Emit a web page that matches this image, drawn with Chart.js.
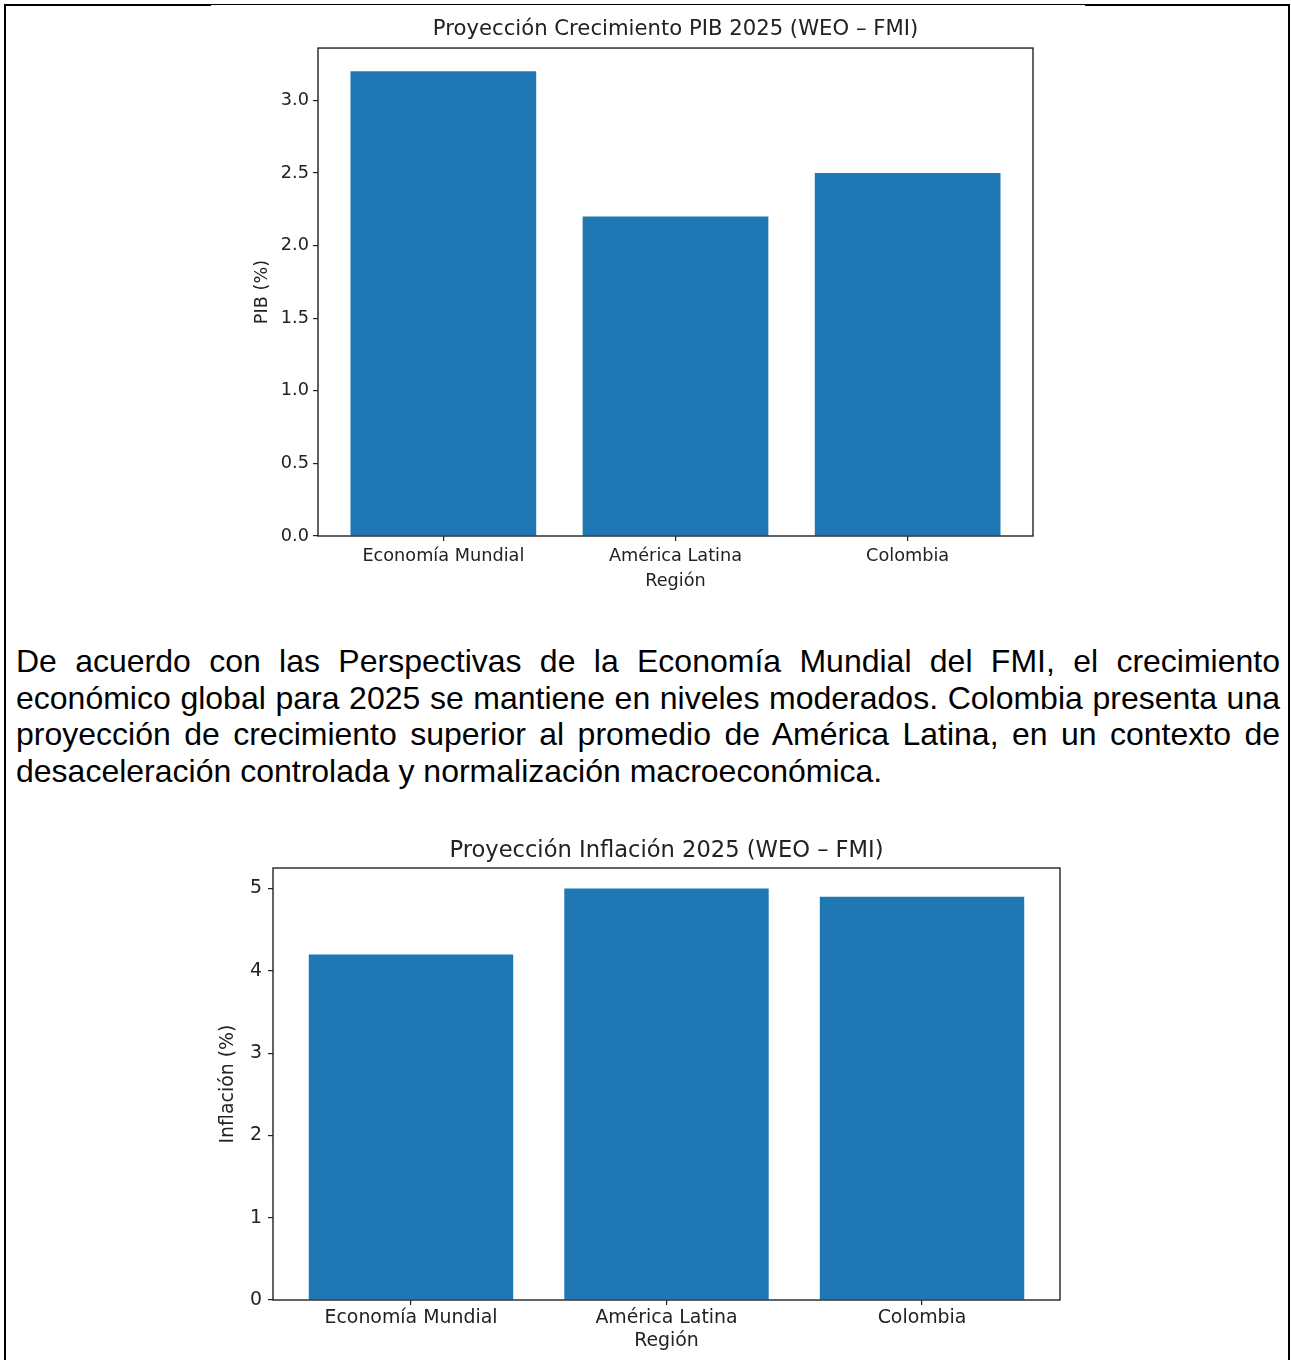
<!DOCTYPE html>
<html>
<head>
<meta charset="utf-8">
<script src="https://cdn.jsdelivr.net/npm/chart.js@4.4.1/dist/chart.umd.min.js"></script>
<style>
  body { margin: 0; background: #fff; width: 1291px; height: 1360px; position: relative; overflow: hidden; }
  .line { position: absolute; background: #000; }
  .box { position: absolute; }
  #texto {
    position: absolute; left: 16px; top: 643px; width: 1264px;
    font-family: "Liberation Sans", Arial, sans-serif; font-size: 32px; line-height: 36.7px;
    text-align: justify; color: #000;
  }
</style>
</head>
<body>
<div class="line" style="left:4px;top:4px;width:207px;height:2px"></div>
<div class="line" style="left:211px;top:4px;width:874px;height:1px"></div>
<div class="line" style="left:1085px;top:4px;width:205px;height:2px"></div>
<div class="line" style="left:4px;top:4px;width:2px;height:1356px"></div>
<div class="line" style="left:1288px;top:4px;width:2px;height:1356px"></div>

<div class="box" style="left:230px;top:0px;width:891px;height:600px"><canvas id="pib"></canvas></div>
<div id="texto">De acuerdo con las Perspectivas de la Economía Mundial del FMI, el crecimiento económico global para 2025 se mantiene en niveles moderados. Colombia presenta una proyección de crecimiento superior al promedio de América Latina, en un contexto de desaceleración controlada y normalización macroeconómica.</div>
<div class="box" style="left:188px;top:820px;width:957px;height:540px"><canvas id="inflacion"></canvas></div>

<script>
const regions = ['Economía Mundial', 'América Latina', 'Colombia']
const pib = [3.2, 2.2, 2.5]
const inflacion = [4.2, 5.0, 4.9]
const pibTicks = [0, 0.5, 1.0, 1.5, 2.0, 2.5, 3.0]
const inflacionTicks = [0, 1, 2, 3, 4, 5]

const FONT = '"DejaVu Sans", sans-serif'
const INK = '#222'

// marco completo alrededor del area de datos (estilo matplotlib)
const frame = {
  id: 'frame',
  afterDatasetsDraw (chart) {
    const { ctx, chartArea: a } = chart
    ctx.save()
    ctx.strokeStyle = INK
    ctx.lineWidth = 1.4
    ctx.strokeRect(a.left, a.top, a.right - a.left, a.bottom - a.top)
    ctx.restore()
  }
}

function barChart (id, cfg) {
  return new Chart(document.getElementById(id), {
    type: 'bar',
    data: {
      datasets: [{
        data: cfg.values.map((v, i) => ({ x: i, y: v })),
        backgroundColor: '#1f77b4',
        borderWidth: 0,
        categoryPercentage: 1,
        barPercentage: 0.8
      }]
    },
    options: {
      responsive: true,
      maintainAspectRatio: false,
      animation: false,
      layout: { padding: 0 },
      plugins: {
        legend: { display: false },
        tooltip: { enabled: false },
        title: {
          display: true,
          text: cfg.title,
          color: INK,
          font: { family: FONT, size: cfg.titleSize, weight: 'normal' },
          padding: cfg.titlePad
        }
      },
      scales: {
        x: {
          type: 'linear',
          min: -0.54,
          max: 2.54,
          offset: false,
          afterBuildTicks: s => { s.ticks = regions.map((r, i) => ({ value: i })) },
          afterFit: s => { s.height = cfg.xHeight },
          ticks: {
            callback: v => regions[v],
            color: INK,
            padding: cfg.xTickPad,
            maxRotation: 0,
            autoSkip: false,
            font: { family: FONT, size: cfg.fontSize }
          },
          grid: { display: true, offset: false, drawOnChartArea: false, drawTicks: true, tickLength: 5, color: INK, lineWidth: 1.2 },
          border: { display: false },
          title: {
            display: true,
            text: 'Región',
            color: INK,
            font: { family: FONT, size: cfg.fontSize },
            padding: { top: 0, bottom: cfg.xTitlePad }
          }
        },
        y: {
          min: 0,
          max: cfg.yMax,
          afterBuildTicks: s => { s.ticks = cfg.yTicks.map(v => ({ value: v })) },
          afterFit: s => { s.width = cfg.yWidth },
          ticks: {
            callback: cfg.yFormat,
            color: INK,
            padding: cfg.yTickPad,
            font: { family: FONT, size: cfg.fontSize }
          },
          grid: { display: true, drawOnChartArea: false, drawTicks: true, tickLength: 5, color: INK, lineWidth: 1.2 },
          border: { display: false },
          title: {
            display: true,
            text: cfg.yLabel,
            color: INK,
            font: { family: FONT, size: cfg.fontSize },
            padding: { top: cfg.yTitlePad, bottom: 0 }
          }
        },
        // eje vacío a la derecha para que el título quede centrado sobre el área de datos
        yPad: {
          position: 'right',
          display: true,
          afterFit: s => { s.width = cfg.yWidth },
          ticks: { display: false },
          grid: { display: false },
          border: { display: false }
        }
      }
    },
    plugins: [frame]
  })
}

barChart('pib', {
  values: pib,
  title: 'Proyección Crecimiento PIB 2025 (WEO – FMI)',
  titleSize: 21.2,
  titlePad: { top: 16.3, bottom: 6.3 },
  fontSize: 17.7,
  xHeight: 64,
  xTickPad: 5,
  xTitlePad: 8,
  yMax: 3.36,
  yTicks: pibTicks,
  yFormat: v => v.toFixed(1),
  yWidth: 88,
  yTickPad: 4,
  yLabel: 'PIB (%)',
  yTitlePad: 21.4
})

barChart('inflacion', {
  values: inflacion,
  title: 'Proyección Inflación 2025 (WEO – FMI)',
  titleSize: 22.6,
  titlePad: { top: 17.4, bottom: 3.5 },
  fontSize: 18.9,
  xHeight: 60,
  xTickPad: 2,
  xTitlePad: 8,
  yMax: 5.25,
  yTicks: inflacionTicks,
  yFormat: v => v.toFixed(0),
  yWidth: 85,
  yTickPad: 6,
  yLabel: 'Inflación (%)',
  yTitlePad: 28.7
})
</script>
</body>
</html>
